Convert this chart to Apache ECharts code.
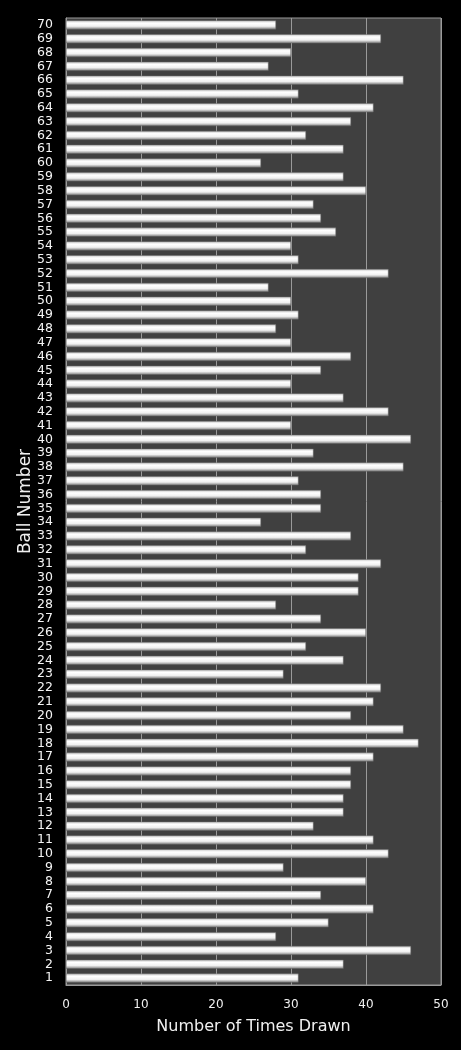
<!DOCTYPE html>
<html>
<head>
<meta charset="utf-8">
<script src="https://cdn.jsdelivr.net/npm/echarts@6/dist/echarts.min.js"></script>
<style>
    html, body { margin: 0; padding: 0; background: #000; }
    #chart { width: 461px; height: 1050px; }
</style>
</head>
<body>
<div id="chart"></div>
<script>
    // ball numbers 1..70 and times drawn
    var balls = [];
    for (var i = 1; i <= 70; i++) { balls.push(String(i)); }

    var timesDrawn = [
        31, 37, 46, 28, 35, 41, 34, 40, 29, 43,   // 1-10
        41, 33, 37, 37, 38, 38, 41, 47, 45, 38,   // 11-20
        41, 42, 29, 37, 32, 40, 34, 28, 39, 39,   // 21-30
        42, 32, 38, 26, 34, 34, 31, 45, 33, 46,   // 31-40
        30, 43, 37, 30, 34, 38, 30, 28, 31, 30,   // 41-50
        27, 43, 31, 30, 36, 34, 33, 40, 37, 26,   // 51-60
        37, 32, 38, 41, 31, 45, 27, 30, 42, 28    // 61-70
    ];

    var xTicks = { min: 0, max: 50, interval: 10 };

    var chart = echarts.init(document.getElementById('chart'));

    var barColor = new echarts.graphic.LinearGradient(0, 0, 0, 1, [
        { offset: 0, color: '#c4c4c4' },
        { offset: 0.3, color: '#ffffff' },
        { offset: 0.65, color: '#f0f0f0' },
        { offset: 1, color: '#7a7a7a' }
    ]);

    option = {
        backgroundColor: '#000',
        animation: false,
        grid: {
            left: 66,
            right: 20,
            top: 18,
            bottom: 65,
            show: true,
            backgroundColor: '#404040',
            borderColor: '#9a9a9a',
            borderWidth: 1
        },
        xAxis: {
            type: 'value',
            min: xTicks.min,
            max: xTicks.max,
            interval: xTicks.interval,
            name: 'Number of Times Drawn',
            nameLocation: 'middle',
            nameGap: 34,
            nameMoveOverlap: false,
            nameTextStyle: { color: '#f0f0f0', fontSize: 16, fontFamily: 'DejaVu Sans' },
            axisLine: { show: true, lineStyle: { color: '#9a9a9a' } },
            axisTick: { show: false },
            axisLabel: { color: '#f0f0f0', fontSize: 12, fontFamily: 'DejaVu Sans', margin: 14 },
            splitLine: { show: true, lineStyle: { color: '#9a9a9a', width: 1 } }
        },
        yAxis: {
            type: 'category',
            data: balls,
            name: 'Ball Number',
            nameLocation: 'middle',
            nameGap: 32,
            nameMoveOverlap: false,
            nameRotate: 90,
            nameTextStyle: { color: '#f0f0f0', fontSize: 17, fontFamily: 'DejaVu Sans' },
            axisLine: { show: true, lineStyle: { color: '#9a9a9a' } },
            axisTick: { show: false },
            axisLabel: { color: '#f4f4f4', fontSize: 12.5, fontFamily: 'DejaVu Sans', interval: 0, margin: 13 },
            splitLine: { show: false }
        },
        series: [{
            name: 'Times Drawn',
            type: 'bar',
            data: timesDrawn,
            barWidth: 9,
            itemStyle: {
                color: barColor,
                borderColor: '#6a6a6a',
                borderWidth: 0.5
            }
        }]
    };

    chart.setOption(option);
</script>
</body>
</html>
